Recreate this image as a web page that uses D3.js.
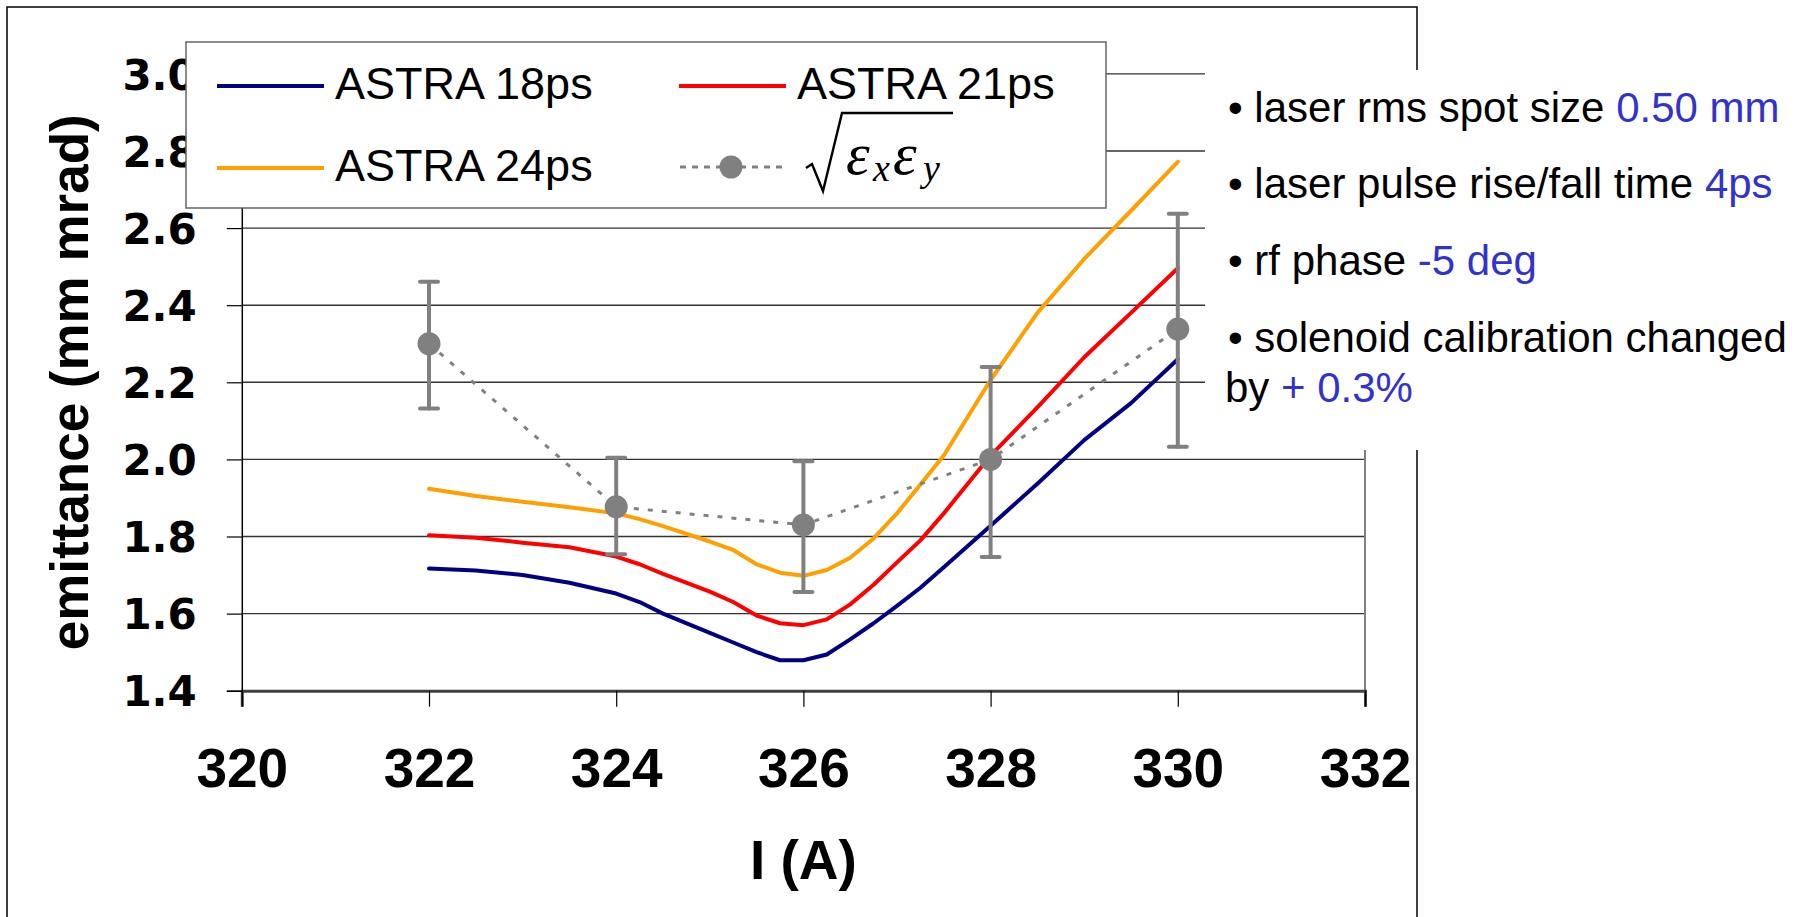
<!DOCTYPE html>
<html>
<head>
<meta charset="utf-8">
<script src="https://cdn.jsdelivr.net/npm/d3@7"></script>
<style>
  body { margin: 0; background: #fff; }
  svg { display: block; }
</style>
</head>
<body>
<div id="chart"></div>
<script>
// simulated emittance vs. solenoid current (ASTRA)
const simCurrent = [322, 322.5, 323, 323.5, 324, 324.25, 324.5, 325, 325.25, 325.5, 325.75, 326,
                    326.25, 326.5, 326.75, 327, 327.25, 327.5, 328, 328.5, 329, 329.5, 330];
const astra18 = [1.717, 1.712, 1.700, 1.680, 1.652, 1.630, 1.600, 1.550, 1.525, 1.500, 1.479, 1.479,
                 1.494, 1.533, 1.575, 1.620, 1.667, 1.720, 1.828, 1.937, 2.050, 2.146, 2.260];
const astra21 = [1.803, 1.797, 1.784, 1.772, 1.748, 1.728, 1.703, 1.657, 1.630, 1.595, 1.575, 1.570,
                 1.585, 1.624, 1.675, 1.733, 1.790, 1.860, 2.010, 2.135, 2.265, 2.380, 2.496];
const astra24 = [1.924, 1.905, 1.890, 1.876, 1.860, 1.845, 1.827, 1.787, 1.765, 1.728, 1.706, 1.698,
                 1.713, 1.745, 1.795, 1.860, 1.935, 2.010, 2.206, 2.380, 2.520, 2.645, 2.772];

// measured sqrt(ex*ey) with error bars
const measCurrent = [322, 324, 326, 328, 330];
const measEmit = [2.30, 1.877, 1.83, 2.00, 2.338];
const measLow  = [2.132, 1.754, 1.656, 1.747, 2.033];
const measHigh = [2.461, 2.004, 1.995, 2.240, 2.637];

const xTicks = [320, 322, 324, 326, 328, 330, 332];
const yTicks = [1.4, 1.6, 1.8, 2.0, 2.2, 2.4, 2.6, 2.8, 3.0];

const notes = [
  ["• laser rms spot size ", "0.50 mm"],
  ["• laser pulse rise/fall time ", "4ps"],
  ["• rf phase ", "-5 deg"],
  ["• solenoid calibration changed", ""],
  ["by ", "+ 0.3%"]
];

const width = 1805, height = 917;
const sans = "'Liberation Sans', Arial, sans-serif";

const svg = d3.select('#chart').append('svg')
  .attr('width', width)
  .attr('height', height);

const x = d3.scaleLinear().domain([320, 332]).range([241.8, 1365]);
const y = d3.scaleLinear().domain([1.4, 3.0]).range([690.7, 73.9]);

// chart area frame
svg.append('rect')
  .attr('x', 7).attr('y', 7)
  .attr('width', 1410).attr('height', 940)
  .attr('fill', 'none').attr('stroke', '#000').attr('stroke-width', 1.5);

// gridlines
svg.append('g')
  .selectAll('line')
  .data(yTicks.slice(1))
  .enter()
  .append('line')
  .attr('x1', x(320)).attr('x2', x(332))
  .attr('y1', d => y(d)).attr('y2', d => y(d))
  .attr('stroke', '#333').attr('stroke-width', 1.4);

// plot area right edge
svg.append('line')
  .attr('x1', x(332)).attr('x2', x(332))
  .attr('y1', y(3.0)).attr('y2', y(1.4))
  .attr('stroke', '#808080').attr('stroke-width', 2);

// axes
const xAxis = svg.append('g')
  .attr('transform', `translate(0,${y(1.4)})`)
  .call(d3.axisBottom(x).tickValues(xTicks).tickSize(16).tickFormat(d3.format('d')));
xAxis.select('.domain').attr('stroke', '#404040').attr('stroke-width', 3);
xAxis.selectAll('.tick line').attr('stroke', '#000').attr('stroke-width', 1.2);
xAxis.selectAll('text')
  .attr('y', 96).attr('dy', 0)
  .style('font-family', sans).style('font-weight', 'bold').style('font-size', '55px')
  .attr('fill', '#000');

const yAxis = svg.append('g')
  .attr('transform', `translate(${x(320)},0)`)
  .call(d3.axisLeft(y).tickValues(yTicks).tickSize(15).tickPadding(30).tickFormat(d3.format('.1f')));
yAxis.select('.domain').attr('stroke', '#000').attr('stroke-width', 1.5);
yAxis.selectAll('.tick line').attr('stroke', '#000').attr('stroke-width', 1.2);
yAxis.selectAll('text')
  .attr('dy', '0.36em')
  .style('font-family', "'DejaVu Sans', sans-serif").style('font-weight', 'bold').style('font-size', '42px')
  .attr('fill', '#000');

// axis titles
svg.append('text')
  .attr('x', x(326)).attr('y', 879)
  .attr('text-anchor', 'middle')
  .style('font-family', sans).style('font-weight', 'bold').style('font-size', '55px')
  .text('I (A)');

svg.append('text')
  .attr('transform', `translate(88,${(y(1.4) + y(3.0)) / 2}) rotate(-90)`)
  .attr('text-anchor', 'middle')
  .style('font-family', sans).style('font-weight', 'bold').style('font-size', '53px')
  .text('emittance (mm mrad)');

// simulation curves
const series = [
  { name: 'ASTRA 18ps', values: astra18, color: '#000080' },
  { name: 'ASTRA 21ps', values: astra21, color: '#ff0000' },
  { name: 'ASTRA 24ps', values: astra24, color: '#ffa000' }
];

const line = d3.line().x(d => x(d[0])).y(d => y(d[1]));

svg.append('g')
  .selectAll('path')
  .data(series)
  .enter()
  .append('path')
  .attr('d', s => line(simCurrent.map((c, i) => [c, s.values[i]])))
  .attr('fill', 'none')
  .attr('stroke', s => s.color)
  .attr('stroke-width', 4)
  .attr('stroke-linejoin', 'round')
  .attr('stroke-linecap', 'round');

// measured points
const meas = measCurrent.map((c, i) => ({ c, v: measEmit[i], lo: measLow[i], hi: measHigh[i] }));
const grey = '#808080';

svg.append('path')
  .attr('d', line(meas.map(d => [d.c, d.v])))
  .attr('fill', 'none')
  .attr('stroke', grey)
  .attr('stroke-width', 3)
  .attr('stroke-dasharray', '5,9');

const err = svg.append('g').attr('stroke', grey).attr('stroke-width', 4).attr('stroke-linecap', 'round');
err.selectAll('.bar').data(meas).enter().append('line')
  .attr('x1', d => x(d.c)).attr('x2', d => x(d.c))
  .attr('y1', d => y(d.lo)).attr('y2', d => y(d.hi));
err.selectAll('.capHi').data(meas).enter().append('line')
  .attr('x1', d => x(d.c) - 9).attr('x2', d => x(d.c) + 9)
  .attr('y1', d => y(d.hi)).attr('y2', d => y(d.hi));
err.selectAll('.capLo').data(meas).enter().append('line')
  .attr('x1', d => x(d.c) - 9).attr('x2', d => x(d.c) + 9)
  .attr('y1', d => y(d.lo)).attr('y2', d => y(d.lo));

svg.append('g')
  .selectAll('circle')
  .data(meas)
  .enter()
  .append('circle')
  .attr('cx', d => x(d.c)).attr('cy', d => y(d.v))
  .attr('r', 11.5)
  .attr('fill', grey);

// legend
const legend = svg.append('g');
legend.append('rect')
  .attr('x', 186).attr('y', 42)
  .attr('width', 920).attr('height', 166)
  .attr('fill', '#fff').attr('stroke', '#666').attr('stroke-width', 1.5);

const legendItems = [
  { s: series[0], lx: 217, ly: 86 },
  { s: series[1], lx: 679, ly: 86 },
  { s: series[2], lx: 217, ly: 168 }
];
legendItems.forEach(it => {
  legend.append('line')
    .attr('x1', it.lx).attr('x2', it.lx + 107)
    .attr('y1', it.ly).attr('y2', it.ly)
    .attr('stroke', it.s.color).attr('stroke-width', 4);
  legend.append('text')
    .attr('x', it.lx + 118).attr('y', it.ly + 13)
    .style('font-family', sans).style('font-size', '45px')
    .text(it.s.name);
});

legend.append('line')
  .attr('x1', 680).attr('x2', 785)
  .attr('y1', 167).attr('y2', 167)
  .attr('stroke', grey).attr('stroke-width', 3)
  .attr('stroke-dasharray', '6,6');
legend.append('circle')
  .attr('cx', 731).attr('cy', 167).attr('r', 11.5).attr('fill', grey);

// sqrt(eps_x eps_y)
legend.append('path')
  .attr('d', 'M806,168 L812,164 L823,191 L842,113 L953,113')
  .attr('fill', 'none').attr('stroke', '#000').attr('stroke-width', 2.4)
  .attr('stroke-linejoin', 'miter');
const formula = legend.append('g')
  .style('font-family', "'Liberation Serif', 'Times New Roman', serif")
  .style('font-style', 'italic');
const symbols = [
  { t: 'ε', x: 846, y: 174, size: 60 },
  { t: 'x', x: 873, y: 181, size: 38 },
  { t: 'ε', x: 893, y: 174, size: 60 },
  { t: 'y', x: 923, y: 181, size: 38 }
];
formula.selectAll('text')
  .data(symbols)
  .enter()
  .append('text')
  .attr('x', d => d.x).attr('y', d => d.y)
  .style('font-size', d => d.size + 'px')
  .text(d => d.t);

// notes box
svg.append('rect')
  .attr('x', 1205).attr('y', 70)
  .attr('width', 600).attr('height', 380)
  .attr('fill', '#fff');

const noteY = [122, 198, 275, 352, 402];
notes.forEach((n, i) => {
  const t = svg.append('text')
    .attr('x', i === 4 ? 1225 : 1228).attr('y', noteY[i])
    .style('font-family', sans).style('font-size', '42px');
  t.append('tspan').attr('fill', '#000').text(n[0]);
  if (n[1]) t.append('tspan').attr('fill', '#3333cc').text(n[1]);
});
</script>
</body>
</html>
